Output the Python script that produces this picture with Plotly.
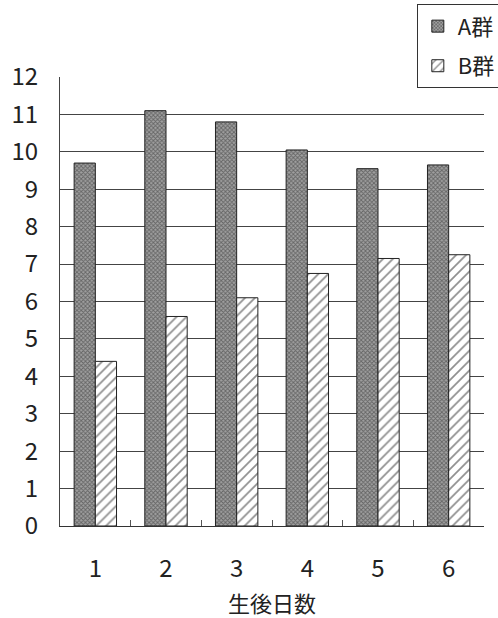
import plotly.graph_objects as go

days = ["1", "2", "3", "4", "5", "6"]
group_a = [9.7, 11.1, 10.8, 10.05, 9.55, 9.65]
group_b = [4.4, 5.6, 6.1, 6.75, 7.15, 7.25]
y_ticks = list(range(0, 13))

FONT = "Noto Sans CJK JP"

fig = go.Figure()
fig.add_trace(go.Bar(
    x=days, y=group_a, name="A群", legendgroup="a",
    marker=dict(
        color="#999999",
        line=dict(color="#222", width=1),
        pattern=dict(shape="x", size=3, solidity=0.5, fgcolor="#2a2a2a", bgcolor="#a0a0a0"),
    ),
))
fig.add_trace(go.Bar(
    x=days, y=group_b, name="B群", legendgroup="b",
    marker=dict(
        color="white",
        line=dict(color="#222", width=1),
        pattern=dict(shape="/", size=7, solidity=0.25, fgcolor="#222", bgcolor="white"),
    ),
))

fig.update_layout(
    width=498, height=618,
    margin=dict(l=60, r=14, t=77, b=92, autoexpand=False),
    paper_bgcolor="white", plot_bgcolor="white",
    barmode="group", bargap=0.4, bargroupgap=0,
    font=dict(family=FONT, size=22, color="#222"),
    legend=dict(
        xref="container", yref="container",
        x=0.837, y=0.993, xanchor="left", yanchor="top",
        bordercolor="#333", borderwidth=1, bgcolor="white",
        font=dict(size=22), traceorder="grouped",
        itemwidth=30, tracegroupgap=8,
    ),
    xaxis=dict(
        range=[-0.5, 5.5], showgrid=False,
        showline=True, linecolor="#333", linewidth=1,
        ticks="inside", tickson="boundaries", ticklen=6, tickcolor="#555",
        tickfont=dict(size=24), ticklabelstandoff=21,
        title=dict(text="生後日数", font=dict(size=22), standoff=21),
    ),
    yaxis=dict(
        range=[0, 12], tickvals=y_ticks,
        showgrid=True, gridcolor="#444", gridwidth=1,
        showline=True, linecolor="#444", linewidth=1,
        zeroline=False, ticks="", tickfont=dict(size=24),
        ticklabelstandoff=16,
    ),
)

fig.write_html("out.html")
